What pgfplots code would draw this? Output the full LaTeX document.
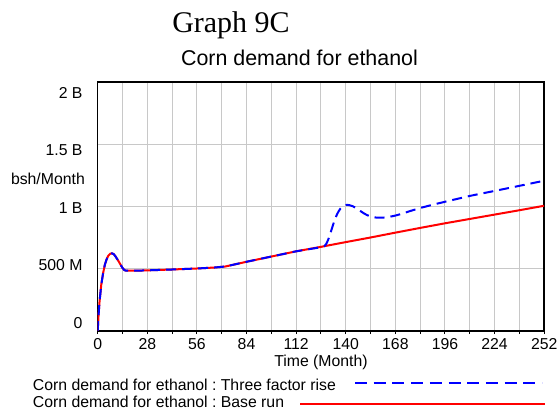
\documentclass[border=0pt]{standalone}
\usepackage{fontspec}
\setmainfont{Liberation Sans}
\newfontfamily\timesfont{Liberation Serif}
\usepackage{pgfplots}
\usepackage{pgfplotstable}
\pgfplotsset{compat=1.18}
\frenchspacing

\definecolor{gridgray}{RGB}{200,200,200}
\definecolor{runblue}{RGB}{0,0,255}
\definecolor{runred}{RGB}{255,0,0}

\newcommand{\lbl}{\fontsize{15.8bp}{18bp}\selectfont}

% Base run, million bushels per month
\pgfplotstableread{
t v
0 0
0.5 130
1 230
2 370
3 460
4 530
5 575
6 605
7 620
8 624
9 618
10 600
11 578
12 555
13 530
14 507
15 490
16 484
20 484
28 487
42 494
56 502
66 510
72 518
84 556
98 598
112 640
126 676
140 714
154 751
168 790
182 828
196 865
210 900
224 935
238 970
252 1006
}\baserun

% Three factor rise
\pgfplotstableread{
t v
0 0
0.5 130
1 230
2 370
3 460
4 530
5 575
6 605
7 620
8 624
9 618
10 600
11 578
12 555
13 530
14 507
15 490
16 484
20 484
28 487
42 494
56 502
66 510
72 518
84 556
98 598
112 640
126 673
127 676
128 682
129 700
130 730
131 770
132 815
133 860
134 900
135 935
136 962
137 983
138 998
139 1007
140 1012
141 1013
142 1011
144 1002
146 986
148 966
150 947
152 931
154 920
156 913
158 910
160 910
162 912
165 918
168 927
172 943
176 962
182 988
189 1014
196 1038
210 1085
224 1125
238 1166
252 1207
}\threefactor

\begin{document}
\begin{tikzpicture}
\useasboundingbox (0,0) rectangle (560bp,410bp);

\node[font=\timesfont\fontsize{30bp}{34bp}\selectfont, anchor=base] at (231bp,377bp) {Graph 9C};
\node[font=\fontsize{21.4bp}{24bp}\selectfont, anchor=base] at (299.5bp,344.3bp) {Corn demand for ethanol};
\node[font=\lbl, anchor=base east, inner sep=0pt] at (85bp,225bp) {bsh/Month};

\begin{axis}[
    at={(97.7bp,79bp)}, anchor=south west,
    scale only axis,
    width=446.5bp, height=249bp,
    xmin=0, xmax=252,
    ymin=0, ymax=2000,
    xtick={0,28,...,252},
    minor xtick={14,42,...,238},
    xtick pos=bottom,
    tick align=outside,
    major tick length=3bp,
    minor tick length=3bp,
    xmajorgrids, xminorgrids,
    ytick={64,528,990,1455,1915},
    yticklabels={0,500 M,1 B,1.5 B,2 B},
    minor ytick={500,1000,1500},
    ytick pos=left,
    ymajorgrids=false, yminorgrids,
    y tick style={draw=none},
    grid style={draw=gridgray, line width=1bp},
    minor grid style={draw=gridgray, line width=1bp},
    axis line style={line width=1.5bp, black},
    x tick style={black, line width=1bp},
    /pgf/number format/assume math mode=true,
    xticklabel style={font=\lbl, inner sep=0pt, yshift=-4bp},
    yticklabel style={font=\lbl, inner sep=0pt, xshift=-12bp},
    xlabel={Time (Month)},
    xlabel style={font=\lbl, inner sep=0pt, at={(axis description cs:0.5,0)}, anchor=base, yshift=-35.5bp},
    scaled y ticks=false,
]
\addplot[runred, line width=2bp] table[x=t, y=v] {\baserun};
\addplot[runblue, line width=2bp, dash pattern=on 10bp off 6bp] table[x=t, y=v] {\threefactor};
\end{axis}

% legend
\node[font=\lbl, anchor=base west, inner sep=0pt] at (32.7bp,19.3bp) {Corn demand for ethanol : Three factor rise};
\node[font=\lbl, anchor=base west, inner sep=0pt] at (32.7bp,2.7bp) {Corn demand for ethanol : Base run};
\draw[runblue, line width=2bp, dash pattern=on 12bp off 6.7bp] (355bp,27.3bp) -- (542bp,27.3bp);
\draw[runred, line width=2bp] (300bp,6bp) -- (545bp,6bp);
\end{tikzpicture}
\end{document}
